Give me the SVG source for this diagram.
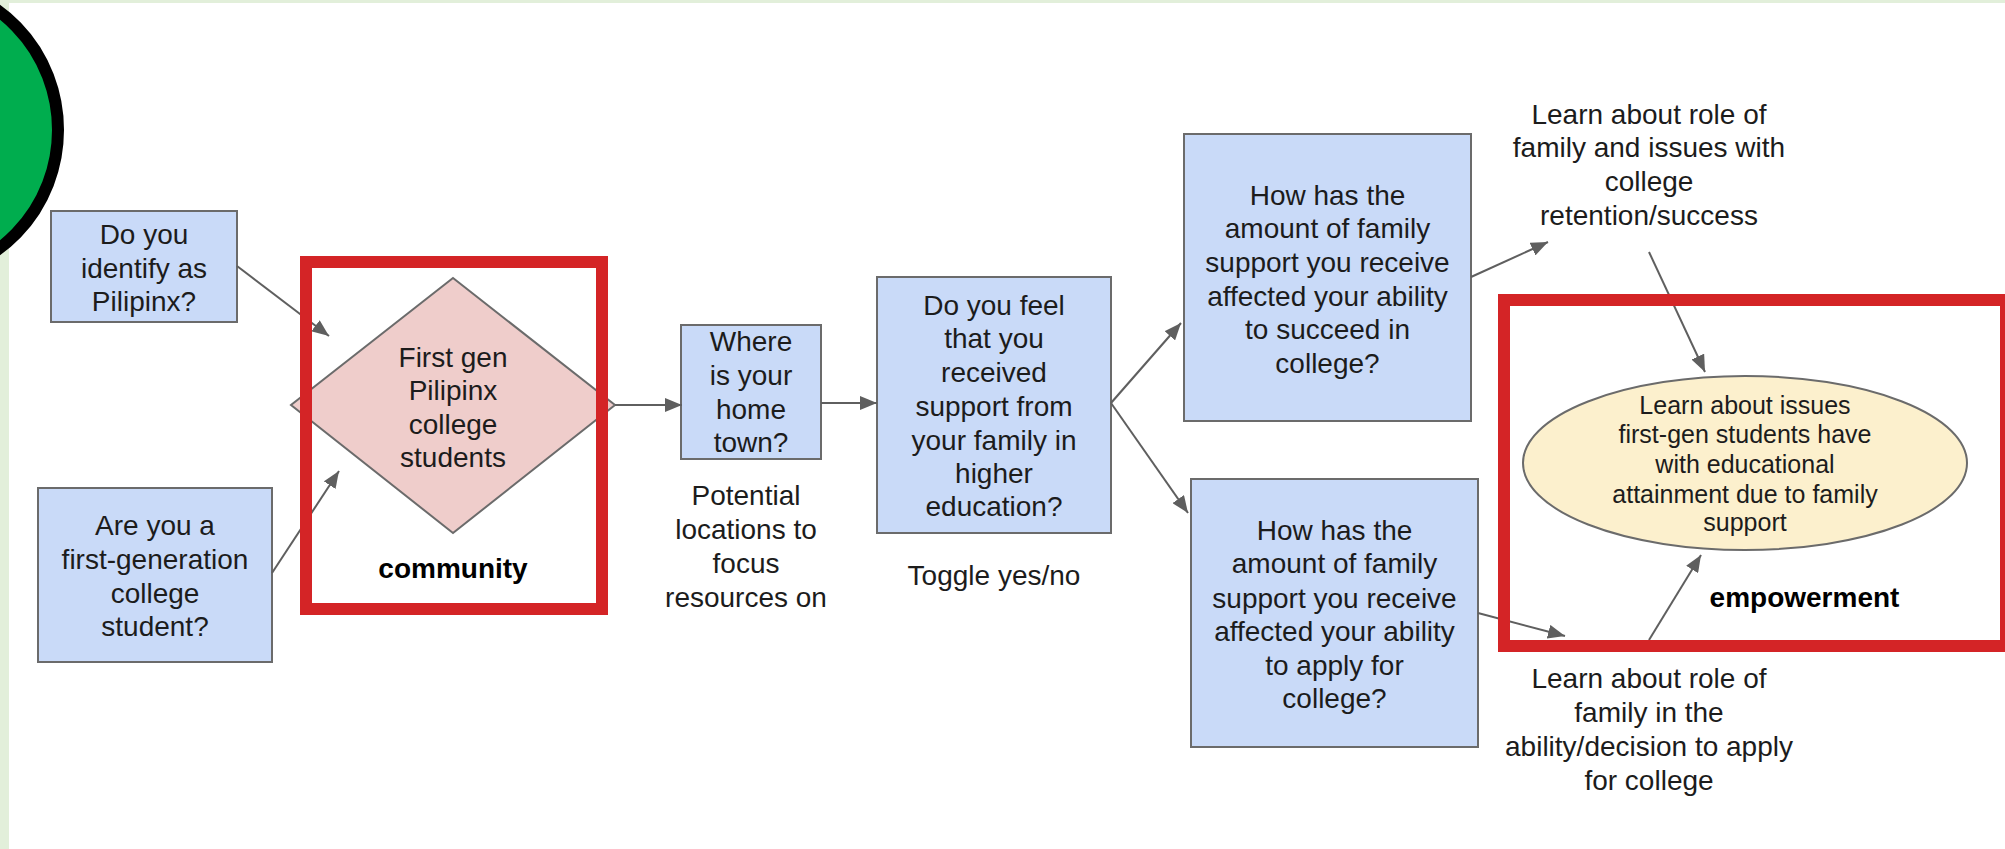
<svg xmlns="http://www.w3.org/2000/svg" width="2005" height="849" viewBox="0 0 2005 849">
<style>
.box{fill:#c9daf8;stroke:#6b6b6b;stroke-width:2}
.t{font-family:"Liberation Sans",Arial,sans-serif;font-size:28px;fill:#1c1c1c;text-anchor:middle}
.ts{font-family:"Liberation Sans",Arial,sans-serif;font-size:25px;fill:#1c1c1c;text-anchor:middle}
.b{font-weight:bold;fill:#000}
.hl{fill:none;stroke:#d42426;stroke-width:12}
.c{stroke:#5f5f5f;stroke-width:2;fill:none;marker-end:url(#ah)}
</style>
<defs>
<marker id="ah" markerUnits="userSpaceOnUse" markerWidth="18" markerHeight="14" refX="17" refY="7" orient="auto">
<path d="M0,0 L17,7 L0,14 z" fill="#5f5f5f"/>
</marker>
</defs>
<rect x="0" y="0" width="2005" height="849" fill="#e2efda"/>
<rect x="9" y="3" width="1996" height="846" fill="#ffffff"/>
<g id="badge">
<ellipse cx="-84" cy="130" rx="142" ry="146" fill="#00ad4e" stroke="#000" stroke-width="12"/>
</g>
<g id="q-pilipinx">
<rect class="box" x="51" y="211" width="186" height="111"/>
<text class="t" x="144" y="244">Do you</text>
<text class="t" x="144" y="278">identify as</text>
<text class="t" x="144" y="311">Pilipinx?</text>
</g>
<g id="q-firstgen">
<rect class="box" x="38" y="488" width="234" height="174"/>
<text class="t" x="155" y="535">Are you a</text>
<text class="t" x="155" y="569">first-generation</text>
<text class="t" x="155" y="603">college</text>
<text class="t" x="155" y="636">student?</text>
</g>
<g id="community-node">
<polygon points="453,278 615,405 453,533 291,405" fill="#efcdcb" stroke="#6b6b6b" stroke-width="2"/>
<text class="t" x="453" y="367">First gen</text>
<text class="t" x="453" y="400">Pilipinx</text>
<text class="t" x="453" y="434">college</text>
<text class="t" x="453" y="467">students</text>
<text class="t b" x="453" y="578">community</text>
</g>
<g id="q-hometown">
<rect class="box" x="681" y="325" width="140" height="134"/>
<text class="t" x="751" y="351">Where</text>
<text class="t" x="751" y="385">is your</text>
<text class="t" x="751" y="419">home</text>
<text class="t" x="751" y="452">town?</text>
<text class="t" x="746" y="505">Potential</text>
<text class="t" x="746" y="539">locations to</text>
<text class="t" x="746" y="573">focus</text>
<text class="t" x="746" y="607">resources on</text>
</g>
<g id="q-support">
<rect class="box" x="877" y="277" width="234" height="256"/>
<text class="t" x="994" y="315">Do you feel</text>
<text class="t" x="994" y="348">that you</text>
<text class="t" x="994" y="382">received</text>
<text class="t" x="994" y="416">support from</text>
<text class="t" x="994" y="450">your family in</text>
<text class="t" x="994" y="483">higher</text>
<text class="t" x="994" y="516">education?</text>
<text class="t" x="994" y="585">Toggle yes/no</text>
</g>
<g id="q-succeed">
<rect class="box" x="1184" y="134" width="287" height="287"/>
<text class="t" x="1327.5" y="205">How has the</text>
<text class="t" x="1327.5" y="238">amount of family</text>
<text class="t" x="1327.5" y="272">support you receive</text>
<text class="t" x="1327.5" y="306">affected your ability</text>
<text class="t" x="1327.5" y="339">to succeed in</text>
<text class="t" x="1327.5" y="373">college?</text>
</g>
<g id="q-apply">
<rect class="box" x="1191" y="479" width="287" height="268"/>
<text class="t" x="1334.5" y="540">How has the</text>
<text class="t" x="1334.5" y="573">amount of family</text>
<text class="t" x="1334.5" y="608">support you receive</text>
<text class="t" x="1334.5" y="641">affected your ability</text>
<text class="t" x="1334.5" y="675">to apply for</text>
<text class="t" x="1334.5" y="708">college?</text>
</g>
<g id="learn-retention">
<text class="t" x="1649" y="124">Learn about role of</text>
<text class="t" x="1649" y="157">family and issues with</text>
<text class="t" x="1649" y="191">college</text>
<text class="t" x="1649" y="225">retention/success</text>
</g>
<g id="learn-apply">
<text class="t" x="1649" y="688">Learn about role of</text>
<text class="t" x="1649" y="722">family in the</text>
<text class="t" x="1649" y="756">ability/decision to apply</text>
<text class="t" x="1649" y="790">for college</text>
</g>
<g id="empowerment-node">
<ellipse cx="1745" cy="463" rx="222" ry="87" fill="#fcf0cd" stroke="#6b6b6b" stroke-width="2"/>
<text class="ts" x="1745" y="414">Learn about issues</text>
<text class="ts" x="1745" y="443">first-gen students have</text>
<text class="ts" x="1745" y="473">with educational</text>
<text class="ts" x="1745" y="503">attainment due to family</text>
<text class="ts" x="1745" y="531">support</text>
<text class="t b" x="1804.5" y="607">empowerment</text>
</g>
<g id="connectors">
<line class="c" x1="237" y1="266" x2="329" y2="336"/>
<line class="c" x1="272" y1="573" x2="339" y2="471"/>
<line class="c" x1="615" y1="405" x2="682" y2="405"/>
<line class="c" x1="821" y1="403" x2="877" y2="403"/>
<line class="c" x1="1111" y1="403" x2="1181" y2="323"/>
<line class="c" x1="1111" y1="403" x2="1188" y2="513"/>
<line class="c" x1="1471" y1="277" x2="1548" y2="242"/>
<line class="c" x1="1649" y1="252" x2="1705" y2="372"/>
<line class="c" x1="1478" y1="613" x2="1565" y2="636"/>
<line class="c" x1="1649" y1="640" x2="1701" y2="555"/>
</g>
<g id="highlight-community">
<rect class="hl" x="306" y="262" width="296" height="347"/>
</g>
<g id="highlight-empowerment">
<rect class="hl" x="1504" y="300" width="502" height="346"/>
</g>
</svg>
